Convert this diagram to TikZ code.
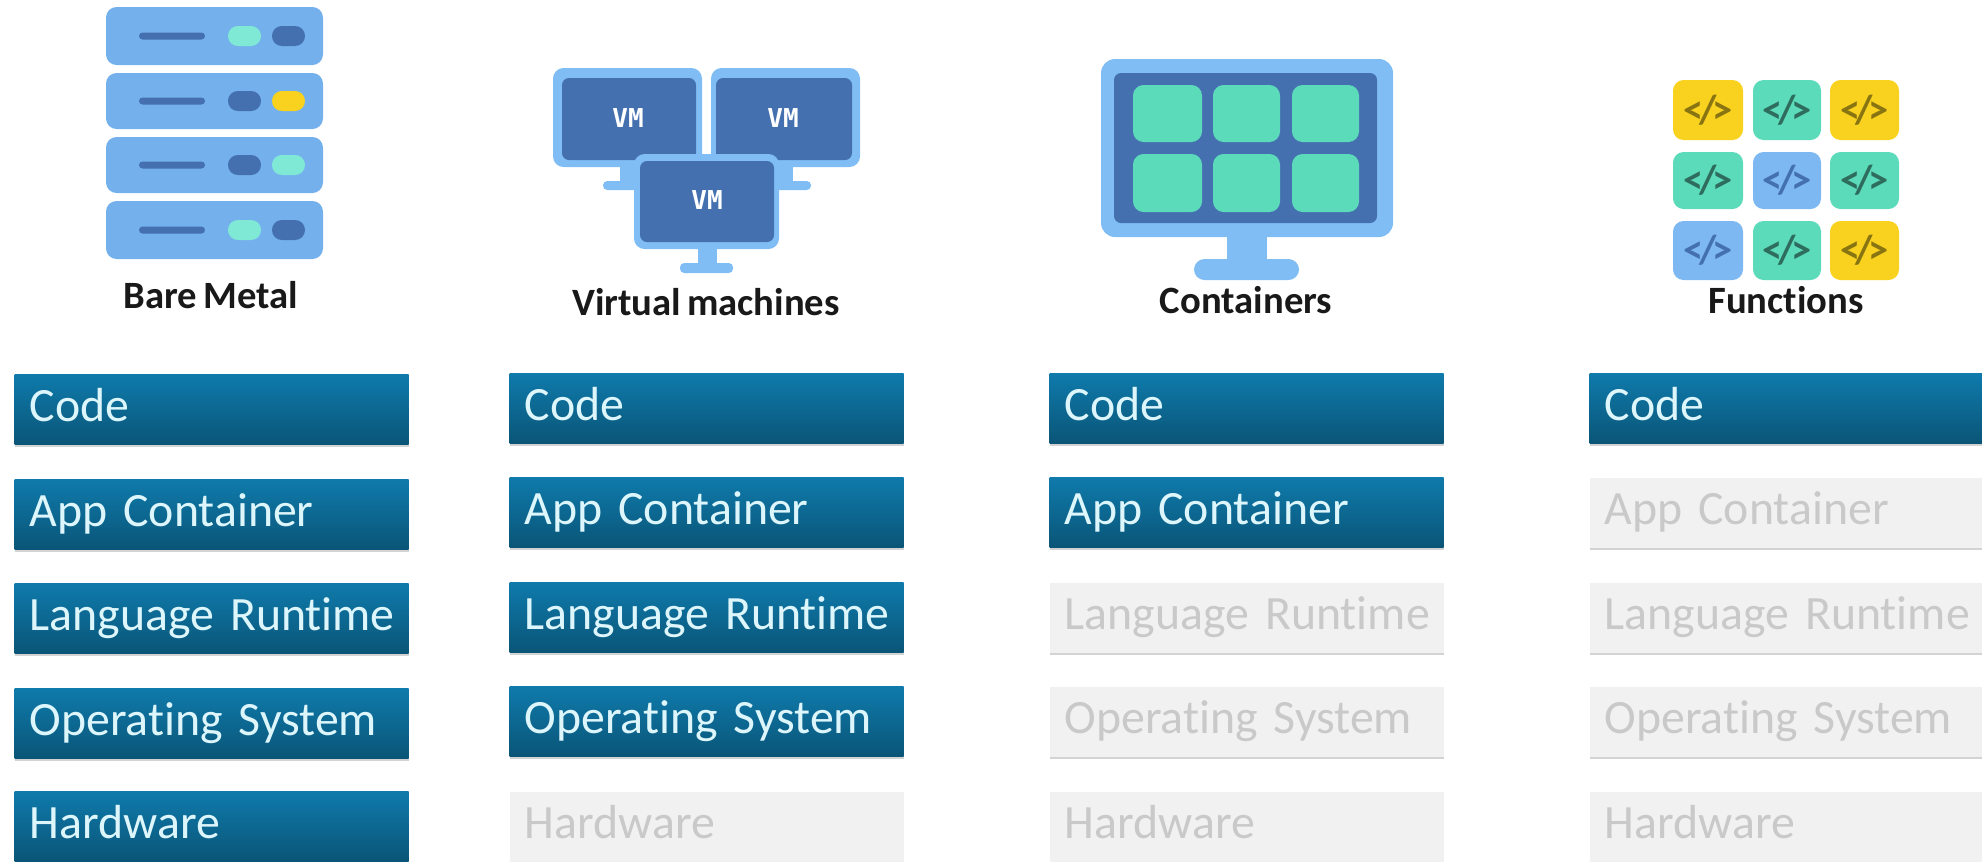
\documentclass[tikz,border=0pt]{standalone}
\usepackage{fontspec}
\setmainfont[Ligatures = NoCommon, WordSpace = 0.7]{Carlito}
\newfontfamily\vmfont{DejaVu Sans Mono}
\usetikzlibrary{shadows}
\definecolor{rackblue}{HTML}{74B0EC}
\definecolor{screenrim}{HTML}{80BDF5}
\definecolor{screendark}{HTML}{4470B0}
\definecolor{mint}{HTML}{7FE9D6}
\definecolor{tilegreen}{HTML}{5CDBBB}
\definecolor{tileyellow}{HTML}{F8D21F}
\definecolor{tileblue}{HTML}{7DB8F2}
\definecolor{boxtop}{HTML}{0F7AAB}
\definecolor{boxbottom}{HTML}{0A5577}
\definecolor{boxtext}{HTML}{DDF6FB}
\definecolor{offfill}{HTML}{F1F1F1}
\definecolor{offtext}{HTML}{C9C9C9}
\tikzset{
  layerbase/.style = {anchor = north west, text width = 3.94cm,
    inner xsep = 0pt, inner ysep = 0pt, text height = 13.3pt, text depth = 6.6pt,
    align = left, font = \fontsize{13.6}{15}\selectfont,
    execute at begin node = {\hspace*{0.15cm}},
    drop shadow = {shadow xshift = 0pt, shadow yshift = -0.8pt, opacity = 0.35}},
  layeron/.style = {layerbase, top color = boxtop, bottom color = boxbottom, text = boxtext},
  layeroff/.style = {layerbase, fill = offfill, text = offtext},
  title/.style = {anchor = base, font = \fontsize{11}{13}\selectfont\bfseries, text = black!90},
  vmlabel/.style = {font = \fontsize{7.4}{9}\selectfont\vmfont\bfseries, text = white, inner sep = 0pt},
  tilelabel/.style = {font = \fontsize{11.5}{13}\selectfont\bfseries, inner sep = 0pt},
  pill/.style = {rounded corners = 2.8pt},
  foot/.style = {rounded corners = 1.2pt},
  tile/.style = {rounded corners = 3pt}
}
\newcommand{\rackrow}[4]{
  \fill[rackblue, rounded corners = 3pt] (106, #1) rectangle (323, #2);
  \fill[screendark, rounded corners = 1pt] (139, {(#1 + #2)/2 - 3.5}) rectangle (205, {(#1 + #2)/2 + 3.5});
  \fill[#3, pill] (228, {(#1 + #2)/2 - 10}) rectangle (261, {(#1 + #2)/2 + 10});
  \fill[#4, pill] (272, {(#1 + #2)/2 - 10}) rectangle (305, {(#1 + #2)/2 + 10});
}
\newcommand{\codetile}[7]{
  \fill[#5, tile] (#1, #2) rectangle (#3, #4);
  \node[tilelabel, text = #6] (#7) at ({(#1 + #3)/2}, {(#2 + #4)/2}) {<\kern-1.3pt/\kern-1.3pt>};
}

\begin{document}
\begin{tikzpicture}[x = 0.1mm, y = -0.1mm]
      \useasboundingbox (0, 0) rectangle (1982, 861);
      \rackrow{7}{65}{mint}{screendark}
      \rackrow{73}{129}{screendark}{tileyellow}
      \rackrow{137}{193}{screendark}{mint}
      \rackrow{201}{259}{mint}{screendark}
      \node[title] (bare) at (211, 308) {Bare Metal};

      \fill[screenrim] (620, 160) rectangle (640, 186);
      \fill[screenrim, foot] (603, 181) rectangle (650, 190);
      \fill[screenrim] (775, 160) rectangle (793, 186);
      \fill[screenrim, foot] (765, 181) rectangle (811, 190);
      \fill[screenrim, tile] (553, 68) rectangle (702, 167);
      \fill[screendark, rounded corners = 2pt] (562, 78) rectangle (696, 160);
      \fill[screenrim, tile] (711, 68) rectangle (860, 167);
      \fill[screendark, rounded corners = 2pt] (716, 78) rectangle (852, 160);
      \fill[screenrim] (698, 245) rectangle (717, 266);
      \fill[screenrim, foot] (680, 263) rectangle (733, 273);
      \fill[screenrim, tile] (634, 154) rectangle (779, 249);
      \fill[screendark, rounded corners = 2pt] (640, 161) rectangle (774, 242);
      \node[vmlabel] (vma) at (628, 118) {VM};
      \node[vmlabel] (vmb) at (783, 118) {VM};
      \node[vmlabel] (vmc) at (707, 200) {VM};
      \node[title] (virtual) at (706, 315) {Virtual machines};

      \fill[screenrim] (1227, 230) rectangle (1267, 265);
      \fill[screenrim, rounded corners = 3pt] (1194, 259) rectangle (1299, 280);
      \fill[screenrim, rounded corners = 4pt] (1101, 59) rectangle (1393, 237);
      \fill[screendark, rounded corners = 2pt] (1114, 73) rectangle (1377, 223);
      \fill[tilegreen, tile] (1133, 85) rectangle (1202, 142);
      \fill[tilegreen, tile] (1213, 85) rectangle (1280, 142);
      \fill[tilegreen, tile] (1292, 85) rectangle (1359, 142);
      \fill[tilegreen, tile] (1133, 154) rectangle (1202, 212);
      \fill[tilegreen, tile] (1213, 154) rectangle (1280, 212);
      \fill[tilegreen, tile] (1292, 154) rectangle (1359, 212);
      \node[title] (containers) at (1246, 313) {Containers};

      \codetile{1673}{80}{1743}{140}{tileyellow}{tileyellow!55!black}{fa}
      \codetile{1753}{80}{1821}{140}{tilegreen}{tilegreen!50!black}{fb}
      \codetile{1830}{80}{1899}{140}{tileyellow}{tileyellow!55!black}{fc}
      \codetile{1673}{152}{1743}{209}{tilegreen}{tilegreen!50!black}{fd}
      \codetile{1753}{152}{1821}{209}{tileblue}{screendark}{fe}
      \codetile{1830}{152}{1899}{209}{tilegreen}{tilegreen!50!black}{ff}
      \codetile{1673}{221}{1743}{280}{tileblue}{screendark}{fg}
      \codetile{1753}{221}{1821}{280}{tilegreen}{tilegreen!50!black}{fh}
      \codetile{1830}{221}{1899}{280}{tileyellow}{tileyellow!55!black}{fi}
      \node[title] (functions) at (1786, 313) {Functions};

      \node[layeron] (codea) at (14, 374) {Code};
      \node[layeron] (appa) at (14, 479) {App Container};
      \node[layeron] (langa) at (14, 583) {Language Runtime};
      \node[layeron] (osa) at (14, 688) {Operating System};
      \node[layeron] (hwa) at (14, 791) {Hardware};

      \node[layeron] (codeb) at (509, 373) {Code};
      \node[layeron] (appb) at (509, 477) {App Container};
      \node[layeron] (langb) at (509, 582) {Language Runtime};
      \node[layeron] (osb) at (509, 686) {Operating System};
      \node[layeroff] (hwb) at (509, 791) {Hardware};

      \node[layeron] (codec) at (1049, 373) {Code};
      \node[layeron] (appc) at (1049, 477) {App Container};
      \node[layeroff] (langc) at (1049, 582) {Language Runtime};
      \node[layeroff] (osc) at (1049, 686) {Operating System};
      \node[layeroff] (hwc) at (1049, 791) {Hardware};

      \node[layeron] (coded) at (1589, 373) {Code};
      \node[layeroff] (appd) at (1589, 477) {App Container};
      \node[layeroff] (langd) at (1589, 582) {Language Runtime};
      \node[layeroff] (osd) at (1589, 686) {Operating System};
      \node[layeroff] (hwd) at (1589, 791) {Hardware};
    \end{tikzpicture}
\end{document}
